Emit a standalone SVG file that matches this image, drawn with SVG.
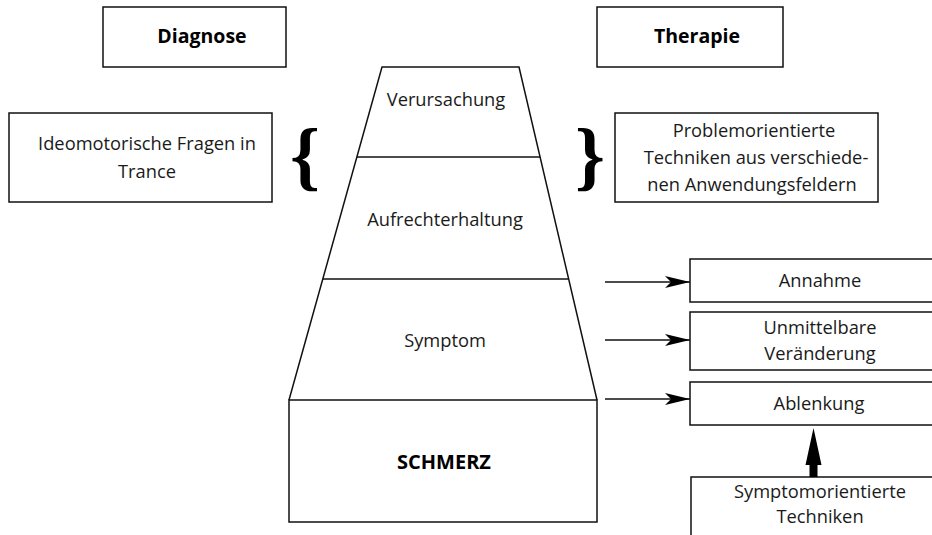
<svg xmlns="http://www.w3.org/2000/svg" width="932" height="535" viewBox="0 0 932 535">
<defs>
<style>
.box{fill:#fff;stroke:#111;stroke-width:1.5}
.ln{fill:none;stroke:#111;stroke-width:1.5}
.t{font-family:"Open Sans","Noto Sans",sans-serif;font-size:18.3px;fill:#1a1a1a;text-anchor:middle}
.b{font-family:"Open Sans","Noto Sans",sans-serif;font-size:19.5px;font-weight:bold;fill:#000;text-anchor:middle}
.br{font-family:"Liberation Serif","DejaVu Serif",serif;font-size:76px;font-weight:bold;fill:#000;text-anchor:middle}
</style>
<marker id="ah" markerWidth="26" markerHeight="14" refX="25" refY="7" orient="auto" markerUnits="userSpaceOnUse">
<path d="M0,1 L25,7 L0,13 L6,7 z" fill="#000"/>
</marker>
</defs>
<g id="diagnose"><rect class="box" x="103" y="7" width="183" height="60"/><text class="b" x="202" y="43">Diagnose</text></g>
<g id="therapie"><rect class="box" x="597" y="7" width="186" height="60"/><text class="b" x="697" y="43">Therapie</text></g>
<g id="ideomotorisch"><rect class="box" x="9" y="113" width="263" height="89"/><text class="t" x="147" y="150">Ideomotorische Fragen in</text><text class="t" x="147" y="178">Trance</text></g>
<g id="brace-left"><text class="br" x="305" y="181">{</text></g>
<g id="brace-right"><text class="br" x="590" y="181">}</text></g>
<g id="problem"><rect class="box" x="615" y="113" width="263" height="89"/><text class="t" x="754" y="137">Problemorientierte</text><text class="t" x="756" y="164">Techniken aus verschiede-</text><text class="t" x="752" y="191">nen Anwendungsfeldern</text></g>
<g id="pyramid">
<path class="ln" d="M289,400 L382,67 L519,67 L597,400"/>
<line class="ln" x1="357" y1="157" x2="540" y2="157"/>
<line class="ln" x1="323" y1="279" x2="568" y2="279"/>
<text class="t" x="446" y="106">Verursachung</text>
<text class="t" x="445" y="226">Aufrechterhaltung</text>
<text class="t" x="445" y="347">Symptom</text>
</g>
<g id="schmerz"><rect class="box" x="289" y="400" width="308" height="122"/><text class="b" x="444" y="469" style="font-size:20px">SCHMERZ</text></g>
<g id="annahme"><rect class="box" x="690" y="259" width="250" height="43"/><text class="t" x="820" y="287">Annahme</text></g>
<g id="unmittelbar"><rect class="box" x="690" y="312" width="250" height="58"/><text class="t" x="820" y="334">Unmittelbare</text><text class="t" x="820" y="360">Veränderung</text></g>
<g id="ablenkung"><rect class="box" x="690" y="382" width="250" height="43"/><text class="t" x="819" y="410">Ablenkung</text></g>
<g id="symptomorientiert"><rect class="box" x="691" y="477" width="250" height="70"/><text class="t" x="820" y="498">Symptomorientierte</text><text class="t" x="820" y="523">Techniken</text></g>
<g id="connectors">
<line class="ln" x1="605" y1="282" x2="690" y2="282" marker-end="url(#ah)"/>
<line class="ln" x1="605" y1="340" x2="690" y2="340" marker-end="url(#ah)"/>
<line class="ln" x1="605" y1="399" x2="690" y2="399" marker-end="url(#ah)"/>
<path d="M809.5,477 L809.5,465 L805.5,465 L813.5,428 L821.5,465 L817.5,465 L817.5,477 z" fill="#000"/>
</g>
</svg>
